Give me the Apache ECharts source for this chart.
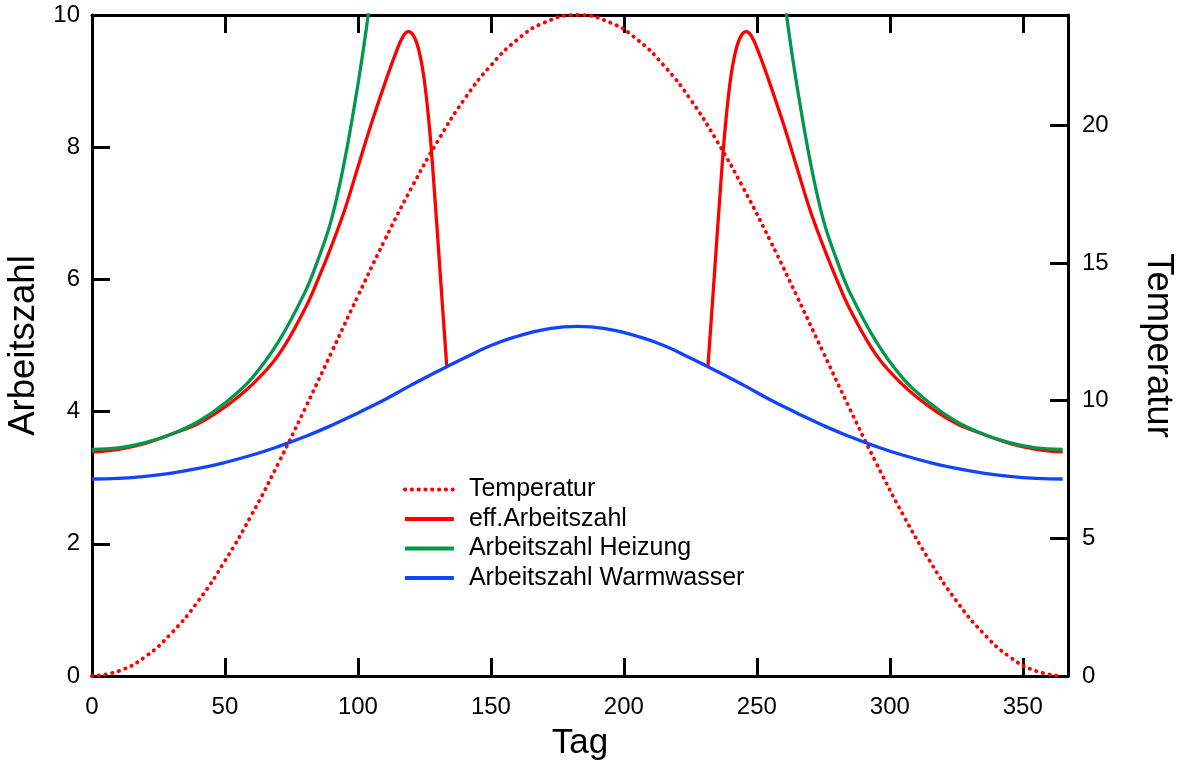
<!DOCTYPE html>
<html><head><meta charset="utf-8">
<script src="https://cdn.jsdelivr.net/npm/echarts@6/dist/echarts.min.js"></script>
<style>html,body{margin:0;padding:0;background:#fff}#chart{width:1184px;height:766px}</style>
</head><body><div id="chart"></div>
<script>
// Days for temperature and hot-water curve
const tDays = [0,10,20,30,40,50,60,70,80,90,100,110,120,130,140,150,160,170,182.5,195,205,215,225,235,245,255,265,275,285,295,305,315,325,335,345,355,365];
const temperatur = [0,0.18,0.7,1.57,2.73,4.18,5.85,7.71,9.69,11.74,13.8,15.81,17.7,19.42,20.94,22.17,23.11,23.72,24,23.72,23.11,22.17,20.94,19.42,17.7,15.81,13.8,11.74,9.69,7.71,5.85,4.18,2.73,1.57,0.7,0.18,0];
const warmwasser = [2.98,2.99,3.02,3.07,3.14,3.23,3.34,3.47,3.62,3.79,3.98,4.18,4.4,4.61,4.81,5.0,5.14,5.24,5.29,5.24,5.14,5.0,4.81,4.61,4.4,4.18,3.98,3.79,3.62,3.47,3.34,3.23,3.14,3.07,3.02,2.99,2.98];
// Heating curve (leaves the chart above 10)
const hDays = [0,10,20,30,40,50,60,70,80,85,90,95,100,103,106,182.5,259,262,265,270,275,280,285,295,305,315,325,335,345,355,365];
const heizung = [3.43,3.45,3.53,3.66,3.85,4.13,4.5,5.05,5.8,6.3,6.9,7.8,8.95,9.75,10.7,null,10.7,9.75,8.95,7.8,6.9,6.3,5.8,5.05,4.5,4.13,3.85,3.66,3.53,3.45,3.43];
// Effective curve
const eDays = [0,10,20,30,40,50,60,70,80,85,90,95,100,105,110,114,117,119,121,123,125,127,129,131,133.4,182.5,231.6,234,236,238,240,242,244,246,248,251,255,260,265,270,275,280,285,295,305,315,325,335,345,355,365];
const effAZ = [3.39,3.43,3.52,3.66,3.82,4.07,4.4,4.85,5.55,6.0,6.5,7.05,7.7,8.35,8.95,9.4,9.68,9.75,9.68,9.45,9.0,8.25,7.2,6.05,4.68,null,4.68,6.05,7.2,8.25,9.0,9.45,9.68,9.75,9.68,9.4,8.95,8.35,7.7,7.05,6.5,6.0,5.55,4.85,4.4,4.07,3.82,3.66,3.52,3.43,3.39];
const xTicks = {min:0, max:367, interval:50};
const yLeftTicks = {min:0, max:10, interval:2};
const yRightTicks = {min:0, max:24, interval:5};
const names = ['Temperatur','eff.Arbeitszahl','Arbeitszahl Heizung','Arbeitszahl Warmwasser'];

const FONT = '"Liberation Sans", Arial, Helvetica, sans-serif';
function pairs(xs, ys){ return xs.map((x,i)=>[x, ys[i]===null ? '-' : ys[i]]); }
const chart = echarts.init(document.getElementById('chart'), null, {renderer:'canvas'});
const axisLine = {show:true, onZero:false, lineStyle:{color:'#000', width:3}};
const tick = {show:true, inside:true, length:18, lineStyle:{color:'#000', width:3}};
const lbl = (m, extra) => Object.assign({fontSize:24, color:'#000', margin:m, fontFamily:FONT}, extra||{});
const nameStyle = (s) => ({fontSize:s, color:'#000', fontFamily:FONT});
const option = {
  animation:false,
  backgroundColor:'#fff',
  textStyle:{fontFamily:FONT},
  grid:{left:92, right:116, top:15, bottom:90, containLabel:false, outerBoundsMode:'none'},
  legend:{
    orient:'vertical', left:398, top:472, itemWidth:49, itemHeight:14, itemGap:4.5,
    selectedMode:false,
    itemStyle:{opacity:0, color:'rgba(0,0,0,0)', borderWidth:0},
    lineStyle:{width:3.8},
    textStyle:{fontSize:25, color:'#000', fontFamily:FONT, padding:[0,0,0,10]},
    data:names
  },
  xAxis:[
    Object.assign({type:'value', position:'bottom', axisLine, axisTick:tick, splitLine:{show:false},
      axisLabel:lbl(19, {showMaxLabel:false}),
      name:'Tag', nameLocation:'middle', nameGap:50, nameTextStyle:nameStyle(35)}, xTicks),
    Object.assign({type:'value', position:'top', axisLine, axisTick:tick, splitLine:{show:false},
      axisLabel:{show:false}}, xTicks)
  ],
  yAxis:[
    Object.assign({type:'value', position:'left', axisLine, axisTick:tick, splitLine:{show:false},
      axisLabel:lbl(12),
      name:'Arbeitszahl', nameLocation:'middle', nameRotate:90, nameGap:48, nameTextStyle:nameStyle(36.5)}, yLeftTicks),
    Object.assign({type:'value', position:'right', axisLine, axisTick:tick, splitLine:{show:false},
      axisLabel:lbl(14, {showMaxLabel:false}),
      name:'Temperatur', nameLocation:'middle', nameRotate:-90, nameGap:72, nameTextStyle:nameStyle(36.5)}, yRightTicks)
  ],
  series:[
    {name:names[0], type:'line', xAxisIndex:0, yAxisIndex:1, data:pairs(tDays, temperatur), symbol:'none', smooth:0.5,
      lineStyle:{color:'#ff0000', width:3.8, type:[0.4,6.4], cap:'round'}, itemStyle:{color:'#ff0000'}},
    {name:names[1], type:'line', xAxisIndex:0, yAxisIndex:0, data:pairs(eDays, effAZ), symbol:'none', smooth:0.4,
      lineStyle:{color:'#ff0000', width:3.3}, itemStyle:{color:'#ff0000'}},
    {name:names[2], type:'line', xAxisIndex:0, yAxisIndex:0, data:pairs(hDays, heizung), symbol:'none', smooth:0.4,
      lineStyle:{color:'#00994c', width:3.3}, itemStyle:{color:'#00994c'}},
    {name:names[3], type:'line', xAxisIndex:0, yAxisIndex:0, data:pairs(tDays, warmwasser), symbol:'none', smooth:0.5,
      lineStyle:{color:'#1144ff', width:3.3}, itemStyle:{color:'#1144ff'}}
  ]
};
chart.setOption(option);
</script>
</body></html>
